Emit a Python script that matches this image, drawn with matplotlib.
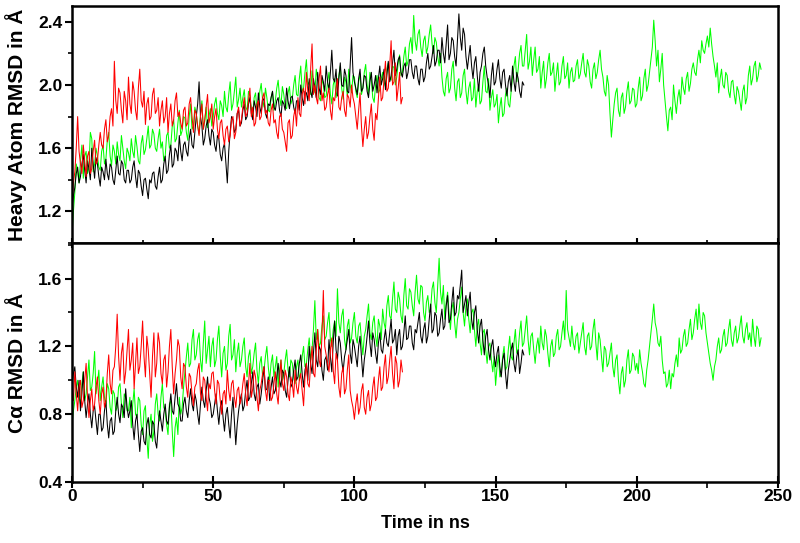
import numpy as np
import matplotlib
matplotlib.use("Agg")
import matplotlib.pyplot as plt
from matplotlib.ticker import MultipleLocator

plt.rcParams['font.family'] = ['Liberation Sans', 'DejaVu Sans']
plt.rcParams['font.weight'] = 'bold'

# Values: "main" at whole ns, "mid" at the half ns between them.
# ---- Heavy atom RMSD (top panel) ----
heavy_green = [
    1.05, 1.32, 1.45, 1.52, 1.41, 1.58, 1.48, 1.66, 1.50, 1.55,
    1.46, 1.62, 1.53, 1.70, 1.49, 1.58, 1.64, 1.52, 1.60, 1.47,
    1.57, 1.66, 1.54, 1.61, 1.50, 1.68, 1.59, 1.74, 1.62, 1.69,
    1.58, 1.72, 1.64, 1.55, 1.70, 1.62, 1.78, 1.66, 1.84, 1.71,
    1.79, 1.65, 1.88, 1.74, 1.82, 1.69, 1.90, 1.77, 1.73, 1.85,
    1.80, 1.92, 1.78, 1.87, 1.96, 1.83, 2.02, 1.88, 2.05, 1.91,
    1.86, 1.97, 1.84, 1.93, 1.80, 1.95, 1.88, 2.01, 1.86, 1.92,
    1.83, 1.96, 1.90, 2.03, 1.87, 1.94, 1.85, 1.99, 1.91, 2.06,
    1.93, 2.12, 1.98, 2.16, 2.02, 2.09, 1.95, 2.04, 1.90, 2.00,
    1.93, 2.08, 1.88, 2.04, 1.97, 2.12, 1.91, 2.02, 2.10, 1.95,
    2.05, 1.92, 2.07, 1.98, 2.13, 1.94, 2.03, 1.89, 2.06, 1.97,
    2.08, 1.99, 2.14, 2.03, 2.11, 2.05, 2.19, 2.08, 2.24, 2.15,
    2.30, 2.44, 2.22, 2.35, 2.18, 2.31, 2.24, 2.38, 2.20, 2.27,
    2.12, 2.05, 1.93, 2.08, 1.98, 2.15, 1.90, 2.04, 1.95, 2.10,
    1.88, 2.02, 1.92, 1.86, 2.00, 1.90, 2.12, 1.95, 1.84, 1.97,
    1.88, 1.76, 1.92, 1.82, 1.98, 1.86, 2.05, 2.18, 2.10, 2.25,
    2.12, 2.32, 2.15, 2.06, 2.24, 2.10, 1.98, 2.15, 2.04, 2.20,
    2.08, 1.96, 2.14, 2.02, 2.18, 2.06, 1.98, 2.11, 2.03, 2.16,
    2.07, 2.20, 2.05, 2.12, 1.98, 2.14, 2.08, 2.22, 2.05, 1.93,
    2.00, 1.67, 1.88, 1.98, 1.80, 1.95, 1.86, 2.02, 1.90, 1.97,
    1.88, 2.05, 1.93, 2.10, 2.00, 2.16, 2.41, 2.12, 2.02, 2.20,
    1.90, 1.71, 1.86, 2.00, 1.82, 1.97, 2.05, 1.94, 2.08, 2.01,
    2.14, 2.06, 2.22, 2.28, 2.20, 2.31, 2.36, 2.18, 2.05, 1.95,
    2.10, 1.98, 2.06, 1.92, 2.03, 1.88, 1.96, 1.84, 2.00, 1.92,
    2.12, 2.04, 2.15, 2.06, 2.10,
]
heavy_green_mid = [
    1.20, 1.50, 1.38, 1.62, 1.55, 1.44, 1.70, 1.45, 1.60, 1.48,
    1.58, 1.50, 1.65, 1.55, 1.62, 1.50, 1.56, 1.68, 1.52, 1.60,
    1.52, 1.58, 1.68, 1.52, 1.63, 1.56, 1.66, 1.60, 1.72, 1.60,
    1.66, 1.60, 1.52, 1.68, 1.60, 1.74, 1.64, 1.76, 1.68, 1.80,
    1.70, 1.80, 1.72, 1.86, 1.74, 1.82, 1.72, 1.86, 1.80, 1.74,
    1.88, 1.82, 1.90, 1.80, 1.86, 1.94, 1.84, 1.96, 1.86, 1.98,
    1.92, 1.86, 1.96, 1.85, 1.92, 1.84, 1.96, 1.90, 1.98, 1.84,
    1.92, 1.84, 1.98, 1.92, 1.99, 1.86, 1.95, 1.88, 2.00, 1.94,
    2.04, 1.96, 2.08, 2.00, 1.94, 2.02, 2.10, 1.92, 2.04, 1.92,
    2.02, 1.94, 2.00, 1.92, 2.06, 1.98, 2.05, 1.93, 2.00, 2.06,
    1.96, 2.02, 1.94, 2.08, 2.00, 2.08, 1.92, 2.00, 1.95, 2.04,
    2.02, 2.10, 2.04, 2.12, 2.00, 2.14, 2.06, 2.18, 2.12, 2.26,
    2.20, 2.28, 2.32, 2.24, 2.28, 2.20, 2.32, 2.26, 2.30, 2.18,
    2.20, 1.96, 2.04, 1.95, 2.10, 1.98, 2.02, 1.92, 2.06, 1.96,
    1.98, 1.90, 2.04, 1.96, 1.88, 2.02, 1.96, 2.04, 1.92, 1.86,
    1.94, 1.86, 1.80, 1.94, 1.88, 1.96, 2.12, 2.02, 2.20, 2.12,
    2.22, 2.10, 2.24, 2.16, 2.08, 2.18, 2.08, 1.98, 2.14, 2.06,
    2.14, 2.06, 2.00, 2.12, 2.04, 2.14, 2.08, 2.02, 2.12, 2.04,
    2.14, 2.08, 2.16, 2.02, 2.10, 2.04, 2.16, 2.10, 1.96, 2.06,
    1.82, 1.78, 1.95, 1.84, 1.92, 1.82, 1.96, 1.88, 1.98, 1.86,
    1.98, 1.90, 2.04, 1.96, 2.08, 2.24, 2.28, 2.22, 2.10, 2.00,
    1.80, 1.84, 1.78, 1.90, 1.92, 1.88, 1.98, 2.04, 1.96, 2.10,
    2.08, 2.16, 2.14, 2.22, 2.26, 2.24, 2.26, 2.12, 2.14, 2.04,
    2.00, 2.08, 1.96, 2.02, 1.94, 1.99, 1.90, 1.96, 1.88, 2.06,
    2.00, 2.12, 2.02, 2.14,
]
heavy_black = [
    1.22, 1.35, 1.48, 1.42, 1.56, 1.38, 1.47, 1.60, 1.41, 1.50,
    1.36, 1.45, 1.53, 1.40, 1.48, 1.37, 1.55, 1.43, 1.50, 1.38,
    1.46, 1.40, 1.52, 1.35, 1.44, 1.30, 1.41, 1.28, 1.38, 1.45,
    1.34, 1.48, 1.40, 1.55, 1.46, 1.62, 1.50, 1.58, 1.68, 1.52,
    1.64, 1.55, 1.72, 1.60, 1.80, 2.02, 1.74, 1.66, 1.78, 1.62,
    1.70, 1.58, 1.66, 1.52, 1.63, 1.38, 1.70, 1.78, 1.72, 1.84,
    1.76, 1.88, 1.80, 1.92, 1.78, 1.86, 1.95, 1.82, 1.90, 1.79,
    1.87, 1.96, 1.84, 1.92, 1.80, 1.88, 1.98, 1.85, 1.93, 1.82,
    1.90, 2.00, 1.87, 1.95, 2.04, 1.92, 1.98, 2.08, 1.94, 2.02,
    2.12, 1.97, 2.22, 2.02, 1.93, 2.14, 1.99, 2.06, 1.95, 2.30,
    2.02, 1.94, 2.10, 1.98, 2.05, 1.92, 2.08, 2.00, 1.95, 2.12,
    2.04, 1.97, 2.15, 2.06, 2.22, 2.10, 2.18, 2.05, 2.14, 2.08,
    2.16, 2.04, 2.12, 2.00, 2.10, 2.05, 2.20, 2.12, 2.25, 2.15,
    2.22, 2.30, 2.14, 2.38, 2.20, 2.28, 2.12, 2.45, 2.22, 2.32,
    2.10, 2.25, 2.04, 2.18, 1.96, 2.12, 2.24, 2.05, 1.92, 2.14,
    2.02, 2.16, 1.98, 2.10, 1.93, 2.06, 2.12, 1.96, 2.04, 1.92,
    2.00,
]
heavy_black_mid = [
    1.30, 1.44, 1.38, 1.50, 1.46, 1.52, 1.40, 1.50, 1.54, 1.42,
    1.48, 1.40, 1.44, 1.50, 1.40, 1.46, 1.44, 1.52, 1.40, 1.46,
    1.38, 1.48, 1.42, 1.46, 1.36, 1.40, 1.34, 1.40, 1.44, 1.36,
    1.42, 1.38, 1.50, 1.44, 1.56, 1.48, 1.60, 1.52, 1.58, 1.62,
    1.58, 1.66, 1.62, 1.70, 1.88, 1.80, 1.62, 1.74, 1.68, 1.72,
    1.62, 1.68, 1.56, 1.60, 1.50, 1.58, 1.80, 1.70, 1.82, 1.74,
    1.84, 1.78, 1.88, 1.82, 1.90, 1.80, 1.86, 1.92, 1.82, 1.88,
    1.92, 1.86, 1.90, 1.84, 1.90, 1.84, 1.90, 1.92, 1.86, 1.90,
    1.84, 1.92, 1.96, 1.90, 1.96, 2.04, 1.92, 1.98, 2.06, 1.96,
    2.02, 2.08, 2.04, 2.10, 2.04, 2.00, 2.10, 1.96, 2.12, 2.08,
    1.98, 2.04, 1.96, 2.06, 1.96, 2.02, 1.96, 2.06, 2.04, 2.00,
    2.10, 2.06, 2.02, 2.14, 2.06, 2.16, 2.08, 2.12, 2.04, 2.16,
    2.08, 2.12, 2.04, 2.10, 2.02, 2.14, 2.10, 2.18, 2.12, 2.22,
    2.14, 2.20, 2.26, 2.16, 2.30, 2.18, 2.28, 2.30, 2.36, 2.18,
    2.18, 2.12, 2.14, 2.06, 2.08, 2.20, 2.12, 2.00, 2.06, 2.00,
    2.10, 2.04, 2.08, 2.00, 2.02, 1.96, 2.02, 2.08, 1.96, 2.02,
]
heavy_red = [
    1.25, 1.45, 1.80, 1.50, 1.62, 1.42, 1.58, 1.47, 1.65, 1.52,
    1.70, 1.60, 1.78, 1.68, 1.85, 2.15, 1.82, 1.95, 1.76, 1.90,
    2.05, 1.82, 1.96, 1.78, 2.10, 1.86, 1.75, 1.92, 1.80, 1.98,
    1.84, 1.74, 1.90, 1.80, 1.70, 1.88, 1.78, 1.95, 1.83, 1.72,
    1.86, 1.76, 1.92, 1.70, 1.82, 1.68, 1.88, 1.78, 1.94, 1.80,
    1.72, 1.85, 1.66, 1.78, 1.62, 1.74, 1.68, 1.80, 1.70, 1.86,
    1.78, 1.92, 1.82, 1.98, 1.86, 1.76, 1.90, 1.80, 1.95, 1.84,
    1.74, 1.88, 1.78, 1.66, 1.82, 1.70, 1.58, 1.78, 1.68, 1.85,
    1.92, 1.80, 1.98, 2.08, 1.90, 2.26, 2.00, 1.88, 2.12, 1.95,
    1.86, 1.98, 1.78, 1.90, 2.04, 1.84, 1.96, 1.80, 1.92, 2.00,
    1.88, 1.72, 1.95, 1.61, 1.80, 1.70, 1.88, 1.65, 1.78, 2.05,
    1.92, 2.15, 1.98, 2.28, 2.02, 1.90, 2.08, 1.92,
]
heavy_red_mid = [
    1.38, 1.60, 1.58, 1.44, 1.52, 1.55, 1.44, 1.58, 1.50, 1.62,
    1.62, 1.72, 1.64, 1.80, 1.74, 1.90, 1.98, 1.84, 1.96, 1.78,
    1.88, 2.02, 1.84, 1.98, 1.90, 1.96, 1.88, 1.78, 1.94, 1.82,
    1.92, 1.84, 1.76, 1.92, 1.82, 1.74, 1.90, 1.80, 1.76, 1.84,
    1.74, 1.88, 1.80, 1.84, 1.74, 1.80, 1.72, 1.86, 1.76, 1.88,
    1.80, 1.72, 1.76, 1.68, 1.72, 1.64, 1.78, 1.66, 1.82, 1.74,
    1.86, 1.80, 1.90, 1.80, 1.74, 1.88, 1.78, 1.92, 1.82, 1.76,
    1.84, 1.76, 1.70, 1.80, 1.72, 1.64, 1.76, 1.66, 1.80, 1.74,
    1.82, 1.94, 1.88, 1.96, 2.10, 1.94, 1.92, 2.04, 1.90, 1.84,
    1.94, 1.84, 1.92, 1.98, 1.86, 1.92, 1.84, 1.94, 1.86, 1.92,
    1.80, 1.84, 1.74, 1.72, 1.66, 1.80, 1.72, 1.82, 1.92, 1.90,
    2.04, 1.96, 2.12, 2.00, 2.14, 1.98, 1.88,
]

# ---- C-alpha RMSD (bottom panel) ----
ca_green = [
    0.74, 0.88, 1.00, 0.86, 1.05, 0.92, 1.12, 0.96, 1.17, 0.98,
    0.88, 1.02, 0.85, 0.95, 0.80, 0.92, 0.84, 0.98, 0.78, 0.90,
    0.82, 0.72, 0.95, 0.78, 0.88, 0.68, 0.85, 0.54, 0.80, 0.70,
    0.92, 0.76, 0.98, 0.82, 0.68, 0.88, 0.55, 0.78, 0.90, 0.84,
    1.05, 1.22, 1.10, 1.30, 1.15, 1.28, 1.05, 1.35, 1.18, 1.08,
    1.25, 1.12, 1.32, 1.02, 1.20, 1.10, 1.33, 1.15, 1.05, 1.22,
    1.12, 1.25, 1.02, 1.18, 1.08, 1.22, 0.98, 1.14, 1.06, 1.20,
    1.00, 1.15, 1.08, 0.96, 1.12, 1.04, 1.18, 1.02, 1.10, 0.98,
    1.12, 1.05, 1.20, 1.10, 1.25, 1.18, 1.47, 1.30, 1.22, 1.38,
    1.26, 1.40, 1.20, 1.35, 1.54, 1.28, 1.42, 1.18, 1.36, 1.25,
    1.40, 1.22, 1.34, 1.15, 1.30, 1.45, 1.24, 1.38, 1.20, 1.32,
    1.42, 1.30, 1.50, 1.36, 1.58, 1.40, 1.48, 1.34, 1.60, 1.42,
    1.52, 1.38, 1.62, 1.45, 1.55, 1.35, 1.50, 1.42, 1.58, 1.40,
    1.72, 1.45, 1.36, 1.52, 1.30, 1.46, 1.25, 1.40, 1.55, 1.32,
    1.48, 1.28, 1.42, 1.20, 1.36, 1.15, 1.30, 1.10, 1.22, 1.05,
    0.97, 1.15, 1.04, 1.20, 1.08, 1.26, 1.12, 1.30, 1.18, 1.35,
    1.22, 1.38, 1.15, 1.28, 1.10, 1.25, 1.32, 1.18, 1.26, 1.08,
    1.24, 1.16, 1.30, 1.20, 1.35, 1.53, 1.25, 1.32, 1.18, 1.28,
    1.22, 1.34, 1.15, 1.28, 1.20, 1.36, 1.12, 1.24, 1.05, 1.18,
    1.10, 1.22, 1.02, 1.15, 0.92, 1.08, 1.00, 1.18, 1.06, 1.14,
    1.10, 1.18, 1.05, 0.96, 1.12, 1.28, 1.45, 1.30, 1.20, 1.12,
    1.05, 0.98, 0.95, 1.02, 1.15, 1.25, 1.18, 1.30, 1.22, 1.36,
    1.28, 1.42, 1.45, 1.30, 1.38, 1.22, 1.10, 1.00, 1.12, 1.25,
    1.18, 1.30, 1.22, 1.36, 1.20, 1.32, 1.25, 1.38, 1.22, 1.34,
    1.28, 1.36, 1.20, 1.30, 1.25,
]
ca_green_mid = [
    0.82, 0.96, 0.90, 0.98, 0.88, 1.02, 0.94, 1.04, 0.92, 1.06,
    0.96, 0.90, 0.98, 0.84, 0.94, 0.82, 0.96, 0.86, 0.92, 0.82,
    0.90, 0.86, 0.80, 0.90, 0.74, 0.82, 0.66, 0.74, 0.64, 0.86,
    0.80, 0.90, 0.84, 0.74, 0.86, 0.70, 0.72, 0.68, 0.80, 0.96,
    1.14, 1.08, 1.24, 1.12, 1.24, 1.12, 1.22, 1.10, 1.26, 1.20,
    1.08, 1.24, 1.14, 1.16, 1.06, 1.26, 1.12, 1.24, 1.16, 1.08,
    1.20, 1.08, 1.14, 1.04, 1.16, 1.06, 1.10, 1.02, 1.14, 1.08,
    1.10, 1.02, 1.14, 1.06, 1.00, 1.12, 1.06, 1.12, 1.02, 1.08,
    1.00, 1.14, 1.08, 1.18, 1.12, 1.30, 1.24, 1.20, 1.32, 1.24,
    1.34, 1.24, 1.30, 1.26, 1.34, 1.38, 1.24, 1.32, 1.22, 1.34,
    1.26, 1.32, 1.24, 1.26, 1.38, 1.28, 1.34, 1.26, 1.36, 1.24,
    1.34, 1.44, 1.38, 1.48, 1.42, 1.52, 1.38, 1.50, 1.44, 1.54,
    1.44, 1.52, 1.48, 1.56, 1.40, 1.46, 1.40, 1.54, 1.46, 1.56,
    1.52, 1.56, 1.46, 1.40, 1.42, 1.34, 1.36, 1.48, 1.40, 1.44,
    1.36, 1.40, 1.30, 1.32, 1.22, 1.28, 1.18, 1.20, 1.12, 1.14,
    1.08, 1.02, 1.14, 1.06, 1.18, 1.14, 1.22, 1.16, 1.28, 1.20,
    1.30, 1.24, 1.26, 1.18, 1.20, 1.16, 1.22, 1.30, 1.16, 1.20,
    1.14, 1.26, 1.18, 1.28, 1.24, 1.30, 1.20, 1.22, 1.26, 1.16,
    1.28, 1.20, 1.26, 1.18, 1.30, 1.22, 1.28, 1.14, 1.20, 1.08,
    1.16, 1.08, 1.12, 1.00, 1.04, 0.96, 1.12, 1.04, 1.16, 1.06,
    1.04, 1.10, 0.98, 1.06, 1.20, 1.36, 1.34, 1.22, 1.26, 1.04,
    0.96, 1.06, 1.04, 1.10, 1.08, 1.16, 1.26, 1.20, 1.30, 1.24,
    1.36, 1.30, 1.34, 1.40, 1.28, 1.16, 1.06, 1.08, 1.20, 1.16,
    1.26, 1.20, 1.30, 1.24, 1.28, 1.22, 1.32, 1.26, 1.30, 1.24,
    1.20, 1.26, 1.32, 1.20,
]
ca_black = [
    0.98, 1.08, 0.90, 0.82, 1.05, 0.78, 0.92, 0.72, 0.85, 0.68,
    0.80, 0.72, 0.88, 0.66, 0.78, 0.70, 0.90, 0.75, 0.84, 0.95,
    0.78, 0.88, 0.65, 0.80, 0.58, 0.72, 0.62, 0.78, 0.66, 0.74,
    0.60, 0.82, 0.70, 0.86, 0.74, 0.92, 0.80, 0.98, 0.84, 0.76,
    0.90, 0.78, 0.95, 0.82, 0.88, 0.74, 0.96, 0.84, 1.02, 0.86,
    0.80, 0.92, 0.74, 0.88, 0.70, 0.84, 0.66, 0.90, 0.62, 0.82,
    0.92, 0.85, 1.00, 0.90, 1.05, 0.88, 0.98, 0.92, 1.08, 0.95,
    0.88, 1.02, 0.94, 1.10, 0.96, 1.04, 0.90, 1.08, 0.98, 1.12,
    1.02, 1.15, 0.96, 1.10, 1.20, 1.04, 1.28, 1.08, 1.18, 1.00,
    1.14, 1.24, 1.05, 1.35, 1.12, 1.22, 1.05, 1.18, 1.30, 1.10,
    1.20, 1.08, 1.26, 1.02, 1.18, 1.35, 1.14, 1.24, 1.10, 1.28,
    1.16, 1.30, 1.20, 1.36, 1.24, 1.15, 1.30, 1.20, 1.38, 1.25,
    1.32, 1.18, 1.28, 1.40, 1.22, 1.34, 1.26, 1.45, 1.30, 1.38,
    1.28, 1.42, 1.32, 1.50, 1.36, 1.55, 1.40, 1.48, 1.65, 1.45,
    1.38, 1.52, 1.30, 1.44, 1.22, 1.36, 1.15, 1.30, 1.12, 1.24,
    1.08, 1.20, 1.02, 1.16, 0.95, 1.12, 1.22, 1.05, 1.18, 1.10,
    1.15,
]
ca_black_mid = [
    1.04, 0.96, 1.00, 0.92, 0.88, 0.86, 0.80, 0.82, 0.76, 0.80,
    0.70, 0.82, 0.74, 0.76, 0.68, 0.82, 0.80, 0.86, 0.78, 0.84,
    0.82, 0.74, 0.76, 0.68, 0.70, 0.64, 0.74, 0.68, 0.76, 0.64,
    0.72, 0.76, 0.80, 0.76, 0.84, 0.82, 0.90, 0.86, 0.76, 0.86,
    0.82, 0.88, 0.86, 0.92, 0.80, 0.86, 0.88, 0.94, 0.90, 0.78,
    0.86, 0.82, 0.84, 0.78, 0.80, 0.74, 0.80, 0.76, 0.74, 0.88,
    0.82, 0.94, 0.88, 0.98, 0.92, 0.96, 0.86, 1.00, 0.94, 1.02,
    0.96, 0.92, 1.02, 1.00, 1.06, 0.94, 1.00, 0.96, 1.06, 1.00,
    1.10, 1.04, 1.06, 1.00, 1.10, 1.16, 1.12, 1.20, 1.06, 1.12,
    1.06, 1.14, 1.22, 1.18, 1.26, 1.12, 1.14, 1.24, 1.16, 1.24,
    1.14, 1.20, 1.14, 1.12, 1.26, 1.22, 1.28, 1.16, 1.22, 1.18,
    1.24, 1.22, 1.28, 1.22, 1.30, 1.26, 1.18, 1.28, 1.24, 1.32,
    1.22, 1.30, 1.34, 1.26, 1.30, 1.22, 1.36, 1.28, 1.40, 1.26,
    1.36, 1.30, 1.44, 1.34, 1.46, 1.38, 1.50, 1.56, 1.40, 1.50,
    1.46, 1.36, 1.40, 1.30, 1.32, 1.24, 1.26, 1.18, 1.20, 1.14,
    1.16, 1.08, 1.12, 1.04, 1.06, 1.18, 1.10, 1.14, 1.04, 1.18,
]
ca_red = [
    0.95, 1.05, 0.82, 1.00, 0.88, 1.10, 0.78, 0.95, 0.86, 1.02,
    0.80, 0.96, 0.88, 1.15, 0.92, 1.08, 1.39, 1.00, 1.22, 1.05,
    1.30, 1.12, 0.95, 1.25, 1.08, 1.35, 1.02, 1.18, 0.90, 1.28,
    1.10, 1.22, 0.98, 1.15, 1.05, 1.30, 0.92, 1.12, 1.20, 0.95,
    1.08, 0.90, 1.02, 0.85, 0.98, 1.10, 0.88, 1.00, 0.82, 0.95,
    1.05, 0.86, 0.98, 0.80, 0.94, 1.06, 0.88, 1.00, 0.84, 0.96,
    0.90, 1.04, 0.85, 1.10, 0.95, 1.02, 0.82, 0.98, 1.08, 0.88,
    1.00, 0.90, 1.05, 0.86, 1.12, 0.94, 1.02, 0.88, 0.98, 1.06,
    0.92, 1.04, 0.85, 1.10, 0.96, 1.20, 1.02, 1.30, 1.08, 1.53,
    1.15, 1.05, 1.25, 0.98, 1.12, 0.90, 1.08, 0.95, 1.15, 0.88,
    0.77, 0.92, 0.84, 0.98, 0.80, 0.94, 0.86, 1.02, 0.90, 1.08,
    0.96, 1.15, 1.02, 1.20, 0.95, 1.10, 1.00, 1.05,
]
ca_red_mid = [
    0.88, 0.92, 0.96, 0.84, 1.00, 0.90, 0.88, 0.82, 0.96, 0.88,
    0.92, 0.84, 1.04, 0.98, 1.06, 1.20, 1.14, 1.16, 0.98, 1.18,
    1.06, 1.22, 1.10, 1.04, 1.20, 1.14, 1.26, 1.04, 1.14, 1.02,
    1.28, 1.04, 1.12, 0.96, 1.20, 1.08, 1.04, 1.24, 1.02, 1.10,
    0.96, 1.04, 0.92, 0.96, 1.06, 0.92, 1.02, 0.90, 0.98, 1.04,
    0.94, 1.00, 0.88, 0.92, 0.86, 0.94, 0.98, 0.90, 0.94, 0.86,
    0.98, 0.92, 0.98, 0.90, 1.06, 0.90, 0.94, 1.04, 0.94, 1.00,
    0.88, 0.98, 0.92, 1.00, 0.98, 1.06, 0.92, 1.02, 0.90, 0.96,
    1.00, 0.94, 1.02, 0.98, 1.10, 1.04, 1.18, 1.12, 1.26, 1.20,
    1.10, 1.18, 1.06, 1.16, 0.96, 1.04, 0.92, 1.06, 0.94, 0.84,
    0.86, 0.80, 0.94, 0.84, 0.90, 0.82, 0.96, 0.88, 1.00, 0.94,
    1.08, 0.98, 1.12, 1.04, 1.14, 0.96, 1.12,
]

x_ticks = [0, 50, 100, 150, 200, 250]
top_yticks = [1.2, 1.6, 2.0, 2.4]
bot_yticks = [0.4, 0.8, 1.2, 1.6]

GREEN, BLACK, RED = '#00ff00', '#000000', '#ff0000'
FS = 12.5


def series(main, mid):
    y = np.empty(2 * len(main) - 1)
    y[0::2] = main
    y[1::2] = mid
    t = np.arange(len(y)) * 0.5
    return t, y


fig = plt.figure(figsize=(8.0, 5.43), dpi=100)
ax1 = fig.add_axes([0.09, 0.5525, 0.8825, 0.4365])
ax2 = fig.add_axes([0.09, 0.1123, 0.8825, 0.4402])

for main, mid, col in [(heavy_green, heavy_green_mid, GREEN),
                       (heavy_black, heavy_black_mid, BLACK),
                       (heavy_red, heavy_red_mid, RED)]:
    ax1.plot(*series(main, mid), color=col, lw=0.75)
for main, mid, col in [(ca_green, ca_green_mid, GREEN),
                       (ca_black, ca_black_mid, BLACK),
                       (ca_red, ca_red_mid, RED)]:
    ax2.plot(*series(main, mid), color=col, lw=0.75)

for ax in (ax1, ax2):
    ax.set_xlim(0, 250)
    ax.set_xticks(x_ticks)
    ax.xaxis.set_minor_locator(MultipleLocator(25))
    ax.yaxis.set_minor_locator(MultipleLocator(0.2))
    for s in ax.spines.values():
        s.set_linewidth(1.8)
    ax.tick_params(axis='y', which='major', direction='out', length=5, width=1.5,
                   labelsize=FS, pad=2)
    ax.tick_params(axis='y', which='minor', direction='out', length=3, width=1.2)

ax1.set_ylim(1.0, 2.5)
ax1.set_yticks(top_yticks)
ax1.set_yticklabels([f"{v:.1f}" for v in top_yticks], fontweight='bold')
ax1.tick_params(axis='x', which='major', direction='inout', length=7, width=1.5,
                labelbottom=False)
ax1.tick_params(axis='x', which='minor', direction='inout', length=5, width=1.2)

ax2.set_ylim(0.4, 1.81)
ax2.set_yticks(bot_yticks)
ax2.set_yticklabels([f"{v:.1f}" for v in bot_yticks], fontweight='bold')
ax2.set_xticklabels([str(v) for v in x_ticks], fontweight='bold')
ax2.tick_params(axis='x', which='major', direction='inout', length=8, width=1.5,
                labelsize=FS, pad=1)
ax2.tick_params(axis='x', which='minor', direction='out', length=4, width=1.2)

ax1.set_ylabel("Heavy Atom RMSD in Å", fontsize=15, fontweight='bold')
ax2.set_ylabel("C\u03b1 RMSD in Å", fontsize=15, fontweight='bold')
ax1.yaxis.set_label_coords(-0.064, 0.5)
ax2.yaxis.set_label_coords(-0.064, 0.5)
ax2.set_xlabel("Time in ns", fontsize=13, fontweight='bold', labelpad=8)

fig.savefig("out.png", dpi=100)
